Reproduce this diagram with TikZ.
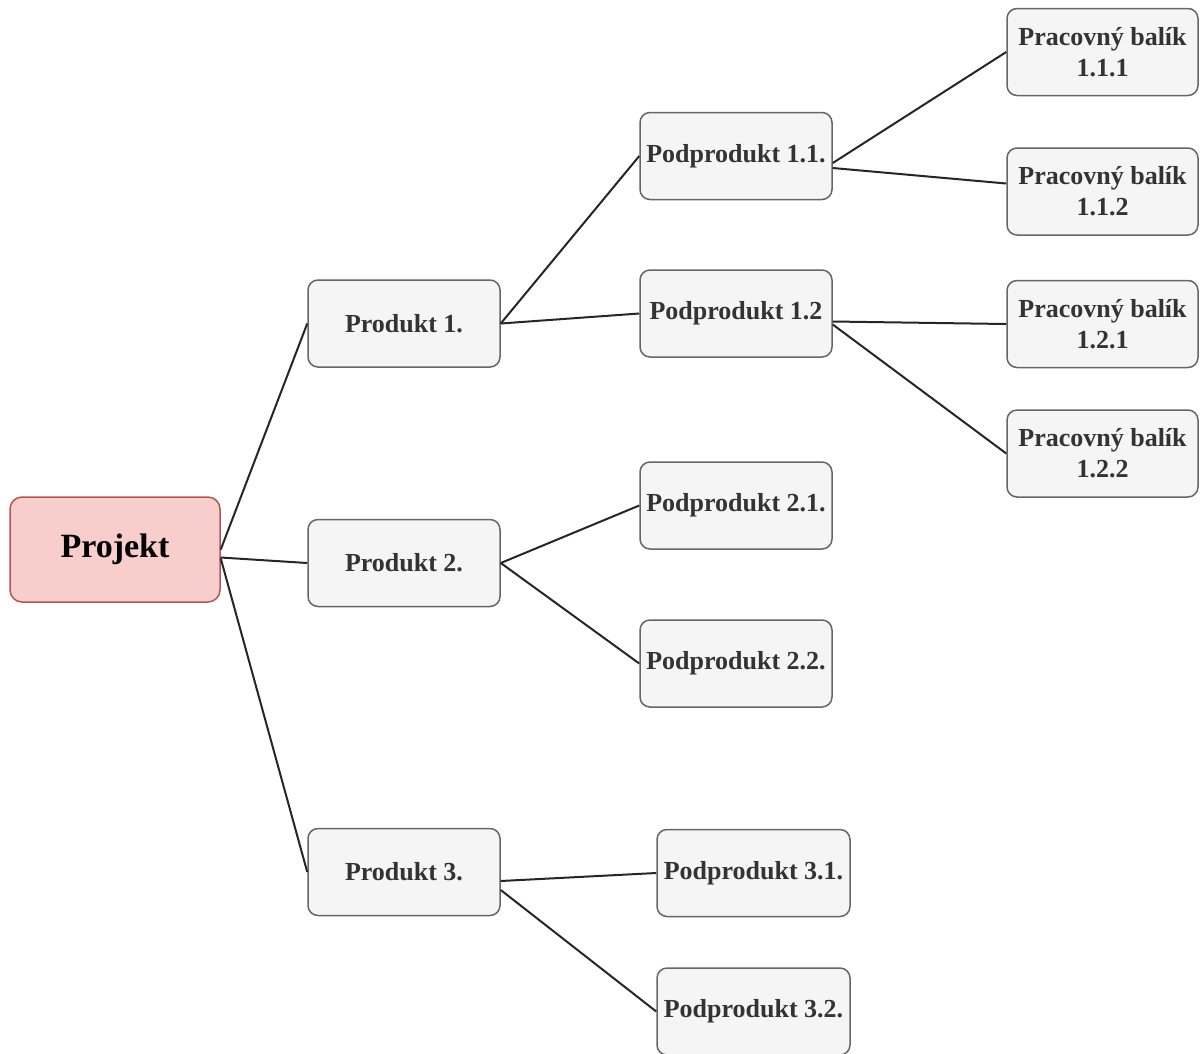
\documentclass[tikz,border=0pt]{standalone}
\usepackage{fontspec}
\setmainfont{Liberation Serif}
\definecolor{boxfill}{HTML}{F5F5F5}
\definecolor{boxline}{HTML}{666666}
\definecolor{boxtext}{HTML}{333333}
\definecolor{rootfill}{HTML}{F8CECC}
\definecolor{rootline}{HTML}{B85450}
\tikzset{
  wbs/.style={draw=boxline, fill=boxfill, rounded corners=10pt, line width=1.5pt,
    minimum width=192pt, minimum height=87pt, inner sep=0pt, align=center,
    text=boxtext, font=\bfseries\fontsize{26}{31}\selectfont},
  rootbox/.style={draw=rootline, fill=rootfill, rounded corners=12pt, line width=1.5pt,
    minimum width=210pt, minimum height=105pt, inner sep=0pt, align=center,
    text=black, font=\bfseries\fontsize{34}{40}\selectfont},
  link/.style={draw=black!85, line width=2pt}
}
\begin{document}
\begin{tikzpicture}[x=1pt,y=-1pt]
\useasboundingbox (0,0) rectangle (1204,1053);
\clip (0,0) rectangle (1204,1053);
\node[rootbox] (proj) at (115,549.5) {Projekt};
\node[wbs] (p1) at (404,323.5) {Produkt 1.};
\node[wbs] (p2) at (404,563) {Produkt 2.};
\node[wbs] (p3) at (404,872) {Produkt 3.};
\node[wbs] (s11) at (736,156) {Podprodukt 1.1.};
\node[wbs] (s12) at (736,313.5) {Podprodukt 1.2};
\node[wbs] (s21) at (736,505.5) {Podprodukt 2.1.};
\node[wbs] (s22) at (736,663.5) {Podprodukt 2.2.};
\node[wbs, minimum width=193pt] (s31) at (753.5,873) {Podprodukt 3.1.};
\node[wbs, minimum width=193pt] (s32) at (753.5,1011.5) {Podprodukt 3.2.};
\node[wbs, minimum width=191pt] (w111) at (1102.5,52) {Pracovný balík\\1.1.1};
\node[wbs, minimum width=191pt] (w112) at (1102.5,191.5) {Pracovný balík\\1.1.2};
\node[wbs, minimum width=191pt] (w121) at (1102.5,324) {Pracovný balík\\1.2.1};
\node[wbs, minimum width=191pt] (w122) at (1102.5,453.5) {Pracovný balík\\1.2.2};
\draw[link] (proj.east) -- (p1.west);
\draw[link] ([yshift=-8pt]proj.east) -- (p2.west);
\draw[link] ([yshift=-9pt]proj.east) -- (p3.west);
\draw[link] (p1.east) -- (s11.west);
\draw[link] (p1.east) -- (s12.west);
\draw[link] ([yshift=-7pt]s11.east) -- (w111.west);
\draw[link] ([yshift=-12pt]s11.east) -- ([yshift=8pt]w112.west);
\draw[link] ([yshift=-8pt]s12.east) -- (w121.west);
\draw[link] ([yshift=-11pt]s12.east) -- (w122.west);
\draw[link] (p2.east) -- (s21.west);
\draw[link] (p2.east) -- (s22.west);
\draw[link] ([yshift=-9pt]p3.east) -- (s31.west);
\draw[link] ([yshift=-18pt]p3.east) -- (s32.west);
\end{tikzpicture}
\end{document}
